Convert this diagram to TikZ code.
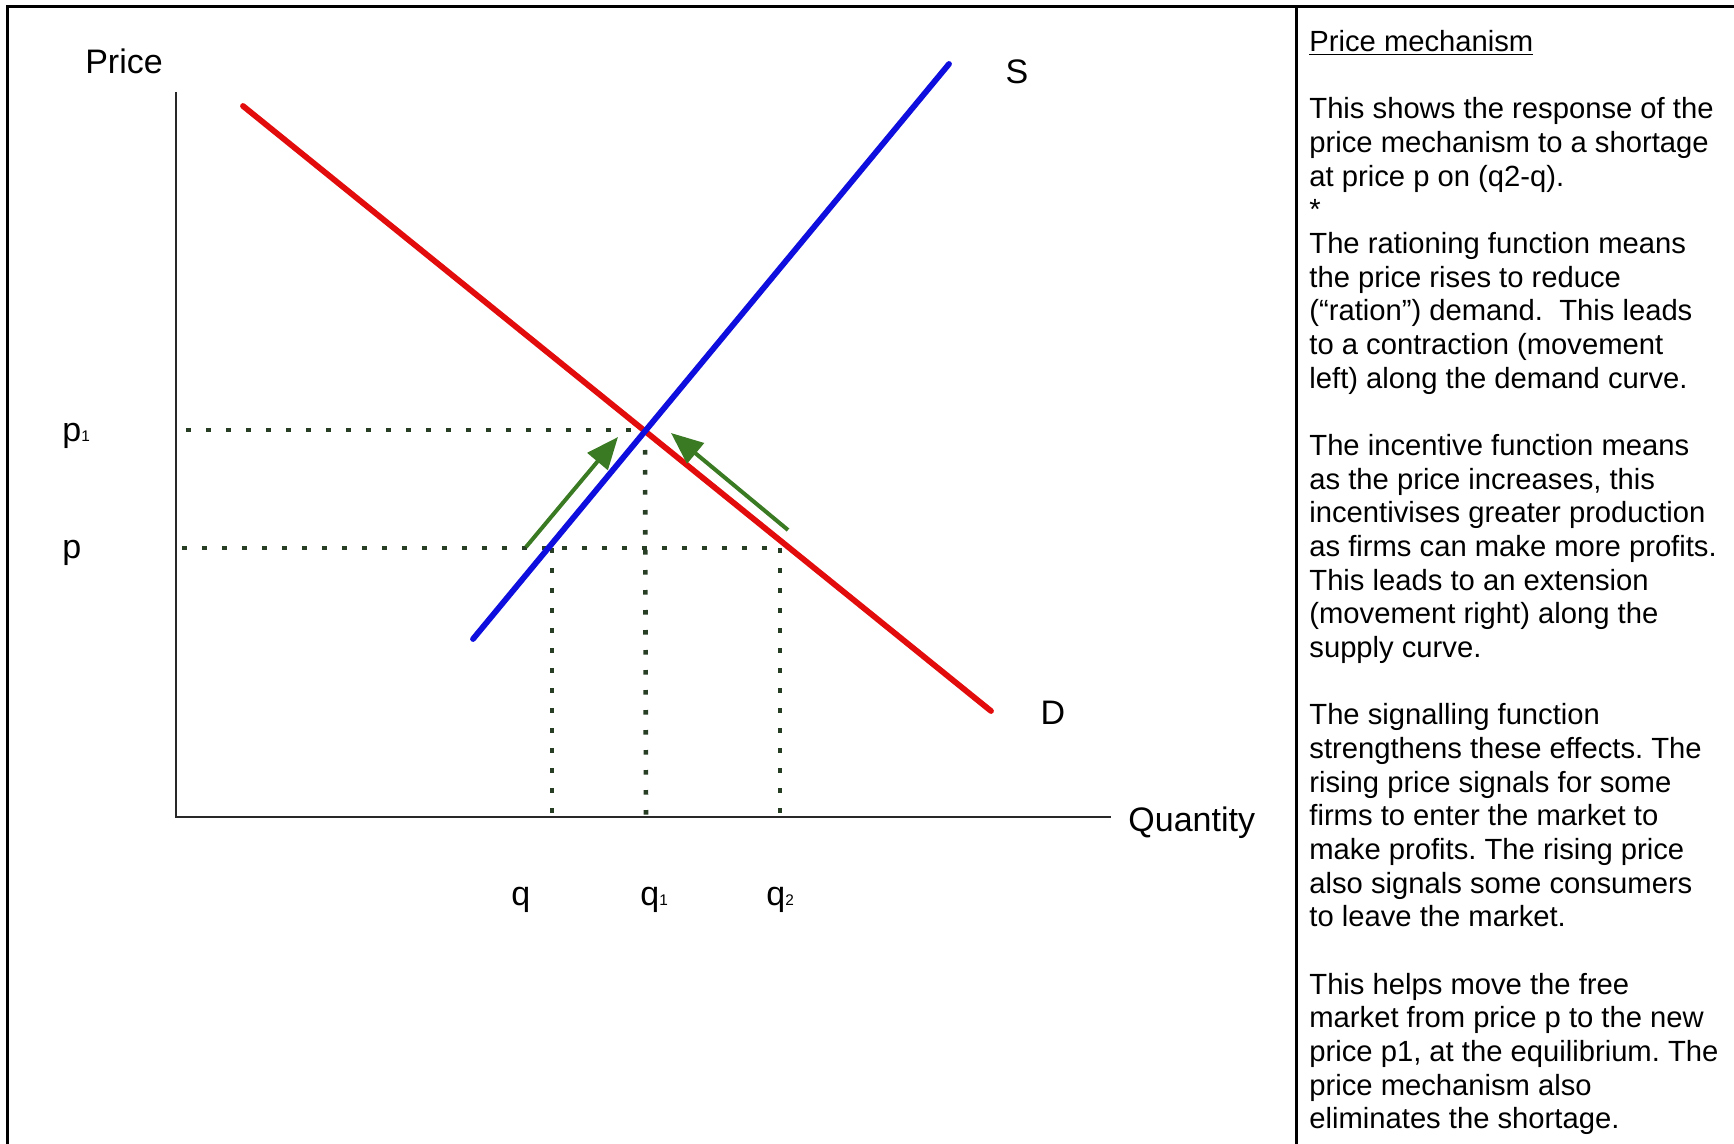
\documentclass[tikz,border=0pt]{standalone}
\usepackage{fontspec}
\setmainfont{Liberation Sans}
\usetikzlibrary{arrows.meta}
\definecolor{dcurve}{RGB}{226,12,12}
\definecolor{scurve}{RGB}{14,14,222}
\definecolor{arrg}{RGB}{58,122,34}
\definecolor{dotc}{RGB}{40,62,36}
\definecolor{axc}{RGB}{40,40,40}
\newcommand\lowsub[1]{{\fontsize{7.7}{8}\selectfont #1}}
\frenchspacing
\begin{document}
\begin{tikzpicture}[x=0.5pt,y=-0.5pt,
  lbl/.style={inner sep=0pt, anchor=base west, font=\fontsize{17}{20}\selectfont},
  txt/.style={inner sep=0pt, anchor=base west, font=\fontsize{14.6}{16.8}\selectfont},
  frame/.style={line width=1.5pt, black},
  axis/.style={line width=1pt, axc},
  dotline/.style={line width=2.3pt, dash pattern=on 2.3pt off 7.7pt, dotc},
  curve/.style={line width=2.9pt, line cap=round},
  move/.style={line width=2pt, arrg, -{Triangle[length=16pt,width=13pt]}}]
\useasboundingbox (0,0) rectangle (1734,1144);
% table frame
\coordinate (TL) at (7,7);
\coordinate (TR) at (1740,7);
\coordinate (BL) at (7,1150);
\coordinate (DT) at (1296,7);
\coordinate (DB) at (1296,1150);
\draw[frame] (BL) -- (TL) -- (TR);
\draw[frame] (DT) -- (DB);
% axes
\coordinate (O) at (176,817);
\coordinate (Ytop) at (176,92);
\coordinate (Xend) at (1111,817);
\draw[axis] (Ytop) -- (O) -- (Xend);
% key points
\coordinate (E) at (645,430);
\coordinate (P1s) at (186,430);
\coordinate (Ps) at (182,548);
\coordinate (Pe) at (780,548);
\coordinate (Qt) at (552,548);
\coordinate (Qb) at (552,817);
\coordinate (Q1b) at (646,817);
\coordinate (Q2b) at (780,817);
\draw[dotline] (P1s) -- (E);
\draw[dotline] (Ps) -- (Pe);
\draw[dotline] (Qt) -- (Qb);
\draw[dotline] (E) -- (Q1b);
\draw[dotline] (Pe) -- (Q2b);
% curves
\coordinate (D1) at (243,106);
\coordinate (D2) at (991,711);
\coordinate (S1) at (473,639);
\coordinate (S2) at (949,64);
\draw[curve, dcurve] (D1) -- (D2);
\draw[curve, scurve] (S1) -- (S2);
% movement arrows
\coordinate (A1s) at (526,547);
\coordinate (A1e) at (618,437);
\coordinate (A2s) at (788,530);
\coordinate (A2e) at (671,433);
\draw[move] (A1s) -- (A1e);
\draw[move] (A2s) -- (A2e);
% labels
\node[lbl, anchor=base] (price) at (124,74) {Price};
\node[lbl, anchor=base] (slab) at (1017,84) {S};
\node[lbl, anchor=base] (dlab) at (1053,724) {D};
\node[lbl] (qty) at (1128,831) {Quantity};
\node[lbl] (p1lab) at (62,442) {p\lowsub{1}};
\node[lbl] (plab) at (62,558) {p};
\node[lbl] (qlab) at (511,905) {q};
\node[lbl] (q1lab) at (640,905) {q\lowsub{1}};
\node[lbl] (q2lab) at (766,905) {q\lowsub{2}};
% explanatory text
\node[txt] (title) at (1309,51.6) {\underline{Price mechanism}};
\foreach \i/\t in {
 2/{This shows the response of the},
 3/{price mechanism to a shortage},
 4/{at price p on (q2-q).},
 5/{*},
 6/{The rationing function means},
 7/{the price rises to reduce},
 8/{(“ration”) demand.~ This leads},
 9/{to a contraction (movement},
 10/{left) along the demand curve.},
 12/{The incentive function means},
 13/{as the price increases, this},
 14/{incentivises greater production},
 15/{as firms can make more profits.},
 16/{This leads to an extension},
 17/{(movement right) along the},
 18/{supply curve.},
 20/{The signalling function},
 21/{strengthens these effects. The},
 22/{rising price signals for some},
 23/{firms to enter the market to},
 24/{make profits. The rising price},
 25/{also signals some consumers},
 26/{to leave the market.},
 28/{This helps move the free},
 29/{market from price p to the new},
 30/{price p1, at the equilibrium. The},
 31/{price mechanism also},
 32/{eliminates the shortage.}}
 \node[txt] (line\i) at (1309,{51.6+\i*33.66}) {\t};
\end{tikzpicture}
\end{document}
